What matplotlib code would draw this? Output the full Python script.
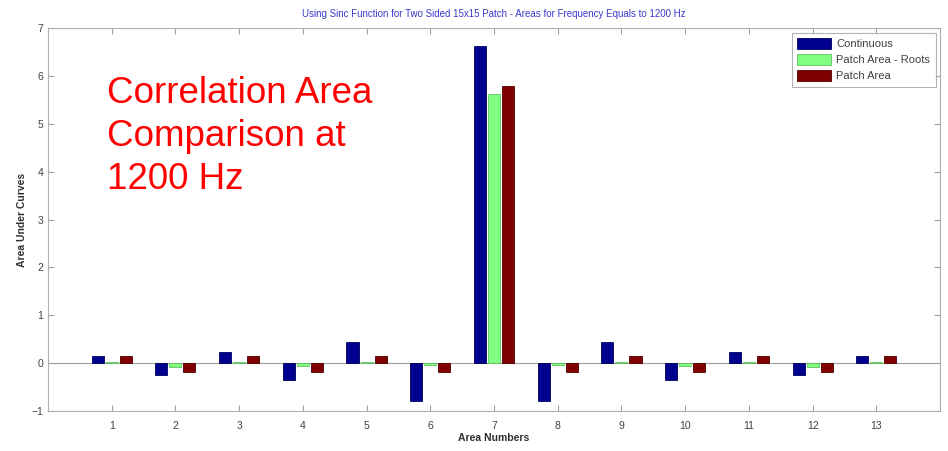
import numpy as np
import matplotlib
matplotlib.use("Agg")
from matplotlib import pyplot as plt

plt.rcParams['font.family'] = ['Liberation Sans', 'DejaVu Sans']

areas = [1, 2, 3, 4, 5, 6, 7, 8, 9, 10, 11, 12, 13]
continuous = [0.14, -0.24, 0.24, -0.35, 0.45, -0.80, 6.62, -0.80, 0.45, -0.35, 0.24, -0.24, 0.14]
patch_roots = [0.02, -0.08, 0.03, -0.05, 0.03, -0.03, 5.62, -0.03, 0.03, -0.05, 0.03, -0.08, 0.02]
patch_area = [0.15, -0.19, 0.15, -0.19, 0.15, -0.19, 5.78, -0.19, 0.15, -0.19, 0.15, -0.19, 0.15]

series = [
    ("Continuous", continuous, "#00008f", "#000060"),
    ("Patch Area - Roots", patch_roots, "#80ff80", "#60c060"),
    ("Patch Area", patch_area, "#800000", "#500000"),
]

fig = plt.figure(figsize=(9.48, 4.51), dpi=100)
ax = fig.add_axes([0.0506, 0.0887, 0.941, 0.849])

x = np.array(areas)
offsets = [-0.22, 0.0, 0.22]
for (name, vals, col, edge), off in zip(series, offsets):
    ax.bar(x + off, vals, width=0.19, color=col, edgecolor=edge,
           linewidth=0.6, label=name, zorder=3)

ax.axhline(0, color="#a0a0a0", linewidth=0.8, zorder=2)
ax.set_xlim(0, 14)
ax.set_ylim(-1, 7)
ax.set_xticks(areas)
ax.set_yticks(range(-1, 8))

for s in ax.spines.values():
    s.set_color("#b0b0b0")
    s.set_linewidth(0.8)
ax.tick_params(direction="in", length=4, color="#a0a0a0", labelsize=7.5,
               labelcolor="#404040", top=True, right=True)
ax.tick_params(axis="x", pad=7)

ax.set_xlabel("Area Numbers", fontsize=7.5, fontweight="bold", color="#303030", labelpad=2)
ax.set_ylabel("Area Under Curves", fontsize=7.5, fontweight="bold", color="#303030", labelpad=3)
ax.set_title("Using Sinc Function for Two Sided 15x15 Patch - Areas for Frequency Equals to 1200 Hz",
             fontsize=7, color="#3a3acc", pad=8)

leg = ax.legend(loc="upper right", fontsize=8, frameon=True, fancybox=False,
                handlelength=3.0, handleheight=1.1, borderaxespad=0.4,
                labelspacing=0.45, handletextpad=0.5, borderpad=0.5)
leg.get_frame().set_edgecolor("#a0a0a0")
leg.get_frame().set_linewidth(0.8)
for t in leg.get_texts():
    t.set_color("#404040")

fig.text(0.113, 0.832, "Correlation Area\nComparison at\n1200 Hz", fontsize=26.5,
         color="#ff0000", va="top", ha="left", linespacing=1.3)

fig.savefig("out.png", dpi=100)
